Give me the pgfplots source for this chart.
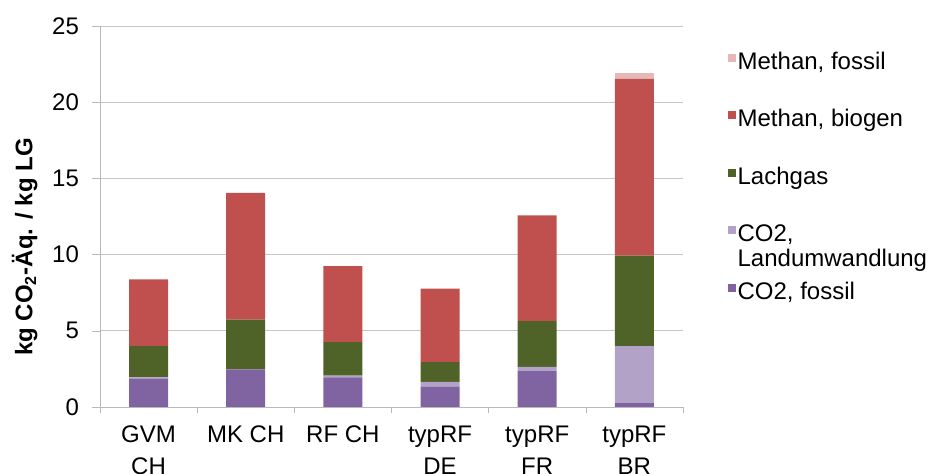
\documentclass[border=0pt]{standalone}
\usepackage{pgfplots}
\pgfplotsset{compat=1.18}
\usepackage{fontspec}
\setmainfont{Liberation Sans}
\definecolor{cfos}{HTML}{8064A2}
\definecolor{clu}{HTML}{B3A2C7}
\definecolor{clach}{HTML}{4F6228}
\definecolor{cmbio}{HTML}{C0504D}
\definecolor{cmfos}{HTML}{E6B9B8}
\begin{document}
\begin{tikzpicture}[font=\fontsize{12}{14.4}\selectfont]
\useasboundingbox (-50pt,-33.5pt) rectangle (425pt,203.5pt);
\begin{axis}[
  at={(0,0)}, anchor=south west,
  scale only axis, width=291.5pt, height=190.5pt,
  ybar stacked, bar width=19.5pt,
  xmin=-0.5, xmax=5.5, ymin=0, ymax=25,
  xtick={0,...,5},
  xticklabels={GVM\\CH, MK CH, RF CH, typRF\\DE, typRF\\FR, typRF\\BR},
  xticklabel style={align=center, font=\fontsize{12}{16}\selectfont, anchor=north, yshift=-2pt},
  minor xtick={-0.5,0.5,...,5.5},
  ytick={0,5,...,25},
  yticklabel style={xshift=-3pt},
  ymajorgrids, grid style={gray!45},
  axis x line*=bottom, axis y line*=left,
  axis line style={gray!55},
  tick align=outside, tick style={gray!55},
  major x tick style={draw=none},
  minor tick length=3pt, major tick length=4pt,
  /pgf/number format/assume math mode=true,
  ylabel={\bfseries kg CO\textsubscript{2}-Äq. / kg LG},
  ylabel style={at={(axis description cs:-0.129,0.42)}, anchor=center},
  reverse legend,
  legend cell align=left,
  legend image code/.code={\fill[#1] (0pt,0.5pt) rectangle (4pt,4.5pt);},
  legend style={at={(axis description cs:1.067,0.945)}, anchor=north west,
    draw=none, fill=none, row sep=17pt,
    font=\fontsize{12}{12.5}\selectfont,
    nodes={text height=8.5pt, text depth=2pt, inner sep=0.6pt}},
]
\addplot[fill=cfos, draw=none] coordinates {(0,1.85) (1,2.46) (2,1.95) (3,1.32) (4,2.35) (5,0.28)};
\addplot[fill=clu, draw=none] coordinates {(0,0.10) (1,0.0) (2,0.10) (3,0.33) (4,0.29) (5,3.71)};
\addplot[fill=clach, draw=none] coordinates {(0,2.04) (1,3.28) (2,2.20) (3,1.29) (4,2.99) (5,5.95)};
\addplot[fill=cmbio, draw=none] coordinates {(0,4.38) (1,8.31) (2,4.99) (3,4.82) (4,6.95) (5,11.59)};
\addplot[fill=cmfos, draw=none] coordinates {(0,0) (1,0) (2,0) (3,0) (4,0) (5,0.39)};
\legend{{CO2, fossil}, {\begin{tabular}[t]{@{}l@{}}CO2,\\Landumwandlung\end{tabular}}, Lachgas, {Methan, biogen}, {Methan, fossil}}
\end{axis}
\end{tikzpicture}
\end{document}
